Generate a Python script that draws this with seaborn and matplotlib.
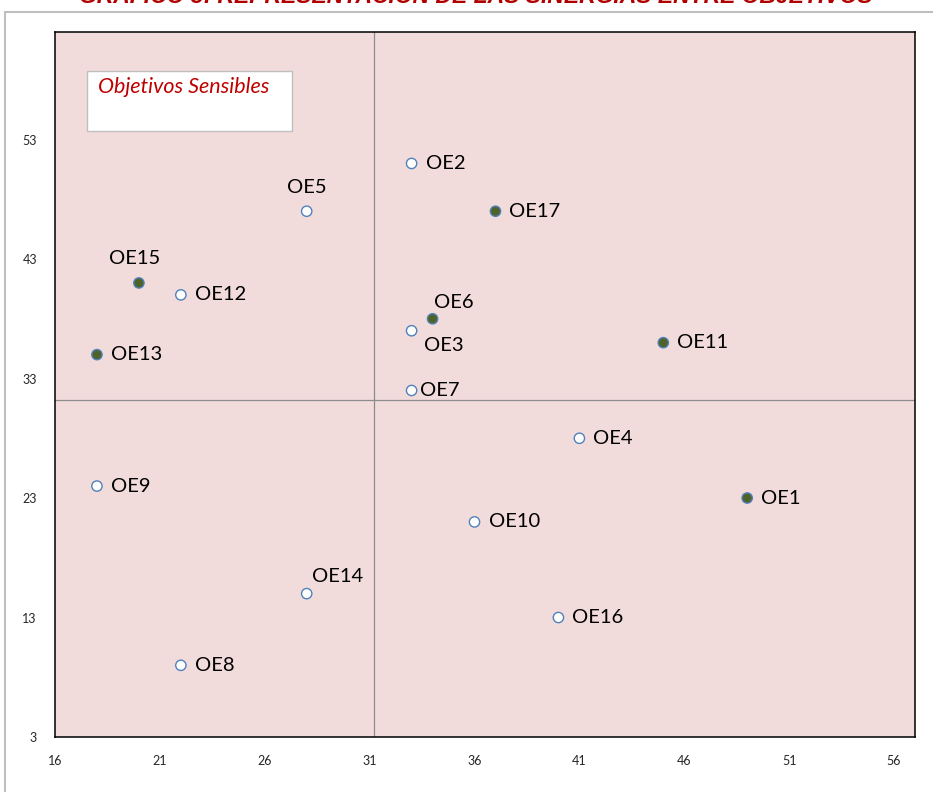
import matplotlib
matplotlib.use('Agg')
import pandas as pd
import seaborn as sns
import matplotlib.pyplot as plt
from matplotlib.patches import Rectangle

# Objetivos estratégicos: posición en el gráfico de sinergias
objetivos = ['OE1', 'OE2', 'OE3', 'OE4', 'OE5', 'OE6', 'OE7', 'OE8', 'OE9',
             'OE10', 'OE11', 'OE12', 'OE13', 'OE14', 'OE15', 'OE16', 'OE17']
eje_x = [49, 33, 33, 41, 28, 34, 33, 22, 18, 36, 45, 22, 18, 28, 20, 40, 37]
eje_y = [23, 51, 37, 28, 47, 38, 32, 9, 24, 21, 36, 40, 35, 15, 41, 13, 47]
sensible = [True, False, False, False, False, True, False, False, False,
            False, True, False, True, False, True, False, True]

x_ticks = [16, 21, 26, 31, 36, 41, 46, 51, 56]
y_ticks = [3, 13, 23, 33, 43, 53]
corte_x = 31.2
corte_y = 31.2

df = pd.DataFrame({'objetivo': objetivos, 'x': eje_x, 'y': eje_y, 'sensible': sensible})

# desplazamiento de cada etiqueta (en pixeles) respecto al punto
offsets = {'OE5': (0, 24, 'center'), 'OE15': (-4, 24, 'center'),
           'OE14': (5, 17, 'left'), 'OE6': (1, 16, 'left'),
           'OE3': (12, -15, 'left'), 'OE7': (8, 0, 'left')}

sns.set_style('white')
plt.rcParams['font.family'] = ['Lato', 'DejaVu Sans']

fig = plt.figure(figsize=(9.33, 7.92), dpi=100)
ax = fig.add_axes([55/933, 1 - 737/792, 860/933, 705/792])
ax.set_facecolor('#F2DCDB')

sns.scatterplot(data=df, x='x', y='y', hue='sensible',
                palette={True: '#4F6228', False: 'white'},
                edgecolor='#4F81BD', linewidth=1.0, s=55, legend=False,
                ax=ax, zorder=3)

ax.axvline(corte_x, color='#8C8C8C', lw=0.9, zorder=1)
ax.axhline(corte_y, color='#8C8C8C', lw=0.9, zorder=1)

px = 0.72  # pixels -> points
for _, r in df.iterrows():
    dx, dy, ha = offsets.get(r['objetivo'], (14, 0, 'left'))
    ax.annotate(r['objetivo'], (r['x'], r['y']), xytext=(dx * px, dy * px),
                textcoords='offset points', ha=ha, va='center',
                fontsize=14.5, color='black')

ax.set_xlim(16, 57)
ax.set_ylim(3, 62)
ax.set_xticks(x_ticks)
ax.set_yticks(y_ticks)
ax.tick_params(length=0, labelsize=9, pad=13)
ax.set_xlabel('')
ax.set_ylabel('')
for s in ax.spines.values():
    s.set_color('black')
    s.set_linewidth(1.1)

# recuadro exterior del gráfico
fig.patches.append(Rectangle((5/933, -0.05), 1.0, 1 - 12/792 + 0.05,
                             transform=fig.transFigure, fill=False,
                             edgecolor='#BFBFBF', lw=1.5))

# cuadro "Objetivos Sensibles"
fig.patches.append(Rectangle((87/933, 1 - 131/792), 205/933, 60/792,
                             transform=fig.transFigure, facecolor='white',
                             edgecolor='#BFBFBF', lw=1.0, zorder=5))
fig.text(98/933, 1 - 87/792, 'Objetivos Sensibles', fontsize=15.5,
         style='italic', color='#C00000', va='center', ha='left', zorder=6)

# título (cortado en la imagen original)
fig.text(476/933, 1 - 3/792, 'GRÁFICO 3: REPRESENTACIÓN DE LAS SINERGIAS ENTRE OBJETIVOS',
         fontsize=16.5, family='Liberation Sans', weight='bold', style='italic',
         color='#B00000', ha='center', va='baseline')

fig.savefig('out.png', dpi=100, facecolor='white')
